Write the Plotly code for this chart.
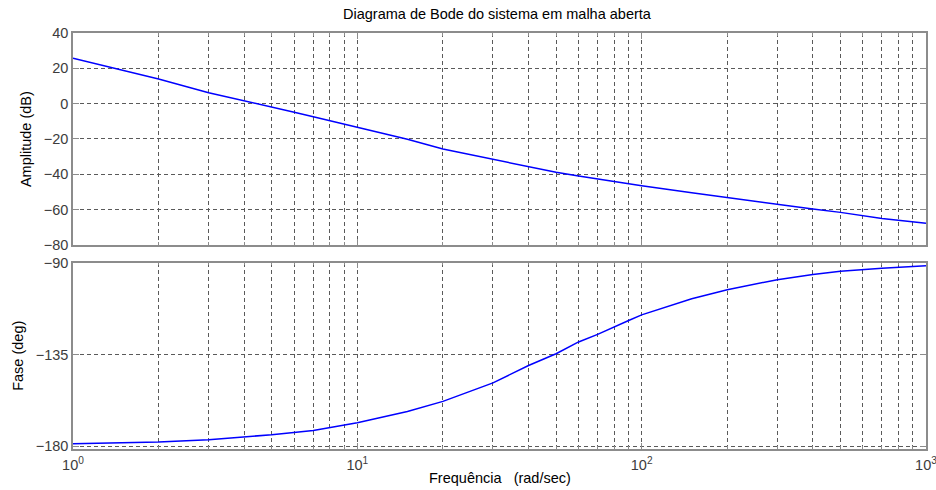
import plotly.graph_objects as go
from plotly.subplots import make_subplots

# Open-loop frequency response samples (rad/sec)
freq_mag = [1, 2, 3, 4, 5, 6, 7, 8, 9, 10, 15, 20, 30, 40, 50, 60, 70, 80,
            100, 150, 200, 300, 400, 500, 700, 1000]
mag_db = [25.7, 13.9, 6.2, 1.7, -1.7, -4.9, -7.4, -9.6, -11.5, -13.6, -20.2,
          -25.7, -31.6, -35.7, -38.9, -41.0, -42.7, -44.2, -46.5, -50.5,
          -53.3, -57.1, -59.7, -61.6, -65.0, -67.8]

freq_phase = [1, 2, 3, 5, 7, 8, 10, 15, 20, 30, 40, 50, 60, 70, 80, 90, 100,
              150, 200, 300, 400, 500, 700, 1000]
phase_deg = [-178.7, -177.8, -176.7, -174.3, -172.2, -170.8, -168.4, -162.9,
             -157.9, -148.8, -140.3, -134.5, -128.7, -125.0, -121.2, -118.2,
             -115.4, -107.5, -103.1, -98.1, -95.6, -94.0, -92.5, -91.3]

mag_ticks = [-80, -60, -40, -20, 0, 20, 40]
phase_ticks = [-180, -135, -90]
decade_vals = [1, 10, 100, 1000]
decade_text = ["10<sup>0</sup>", "10<sup>1</sup>", "10<sup>2</sup>", "10<sup>3</sup>"]
minor_vals = [m * d for d in (1, 10, 100) for m in range(2, 10)]

FONT = "Liberation Sans, Arial, sans-serif"
GRID = "#5a5a5a"
BOX = "#8c8c8c"
TICKFONT = dict(family=FONT, size=14.5, color="#3c3c3c")

fig = make_subplots(rows=2, cols=1, shared_xaxes=False, vertical_spacing=0.0)

fig.add_trace(go.Scatter(x=freq_mag, y=mag_db, mode="lines",
                         line=dict(color="#0000ff", width=1.5),
                         showlegend=False, hoverinfo="skip"), row=1, col=1)
fig.add_trace(go.Scatter(x=freq_phase, y=phase_deg, mode="lines",
                         line=dict(color="#0000ff", width=1.5),
                         showlegend=False, hoverinfo="skip"), row=2, col=1)

common_x = dict(
    type="log", range=[0, 3], automargin=False,
    showline=True, linecolor=BOX, linewidth=1.5, mirror="ticks",
    ticks="inside", ticklen=6, tickcolor=BOX,
    tickvals=decade_vals,
    showgrid=True, gridcolor=GRID, griddash="4px,3px", gridwidth=1,
    zeroline=False,
    minor=dict(tickvals=minor_vals, ticks="inside", ticklen=3, tickcolor=BOX,
               showgrid=True, gridcolor=GRID, griddash="4px,3px", gridwidth=1),
)

fig.update_xaxes(common_x, row=1, col=1)
fig.update_xaxes(showticklabels=False, row=1, col=1)
fig.update_xaxes(common_x, row=2, col=1)
fig.update_xaxes(ticktext=decade_text, tickfont=TICKFONT, ticklabelstandoff=2,
                 ticklabeloverflow="allow", row=2, col=1)

common_y = dict(
    automargin=False,
    showline=True, linecolor=BOX, linewidth=1.5, mirror="ticks",
    ticks="inside", ticklen=6, tickcolor=BOX,
    showgrid=True, gridcolor=GRID, griddash="4px,3px", gridwidth=1,
    zeroline=False, tickfont=TICKFONT,
)
fig.update_yaxes(common_y, range=[-80, 40], tickvals=mag_ticks,
                 domain=[0.4907, 1.0], row=1, col=1)
fig.update_yaxes(common_y, range=[-181.3, -89.7], tickvals=phase_ticks,
                 domain=[0.0, 0.4482], row=2, col=1)

fig.update_layout(
    width=936, height=490,
    margin=dict(l=73, r=10, t=33, b=41),
    paper_bgcolor="white", plot_bgcolor="white",
    font=dict(family=FONT, size=14.5, color="#000000"),
    annotations=[
        dict(text="Diagrama de Bode do sistema em malha aberta",
             xref="paper", yref="paper", x=0.498, y=1.0, yshift=19,
             xanchor="center", yanchor="middle", showarrow=False,
             font=dict(family=FONT, size=14.5, color="#000000")),
        dict(text="Frequência   (rad/sec)",
             xref="paper", yref="paper", x=0.5, y=0.0, yshift=-29,
             xanchor="center", yanchor="middle", showarrow=False,
             font=dict(family=FONT, size=14.5, color="#000000")),
        dict(text="Amplitude (dB)", textangle=-90,
             xref="paper", yref="paper", x=0.0, xshift=-47, y=0.745,
             xanchor="center", yanchor="middle", showarrow=False,
             font=dict(family=FONT, size=14.5, color="#000000")),
        dict(text="Fase (deg)", textangle=-90,
             xref="paper", yref="paper", x=0.0, xshift=-55, y=0.224,
             xanchor="center", yanchor="middle", showarrow=False,
             font=dict(family=FONT, size=14.5, color="#000000")),
    ],
)

fig.write_html("out.html")
